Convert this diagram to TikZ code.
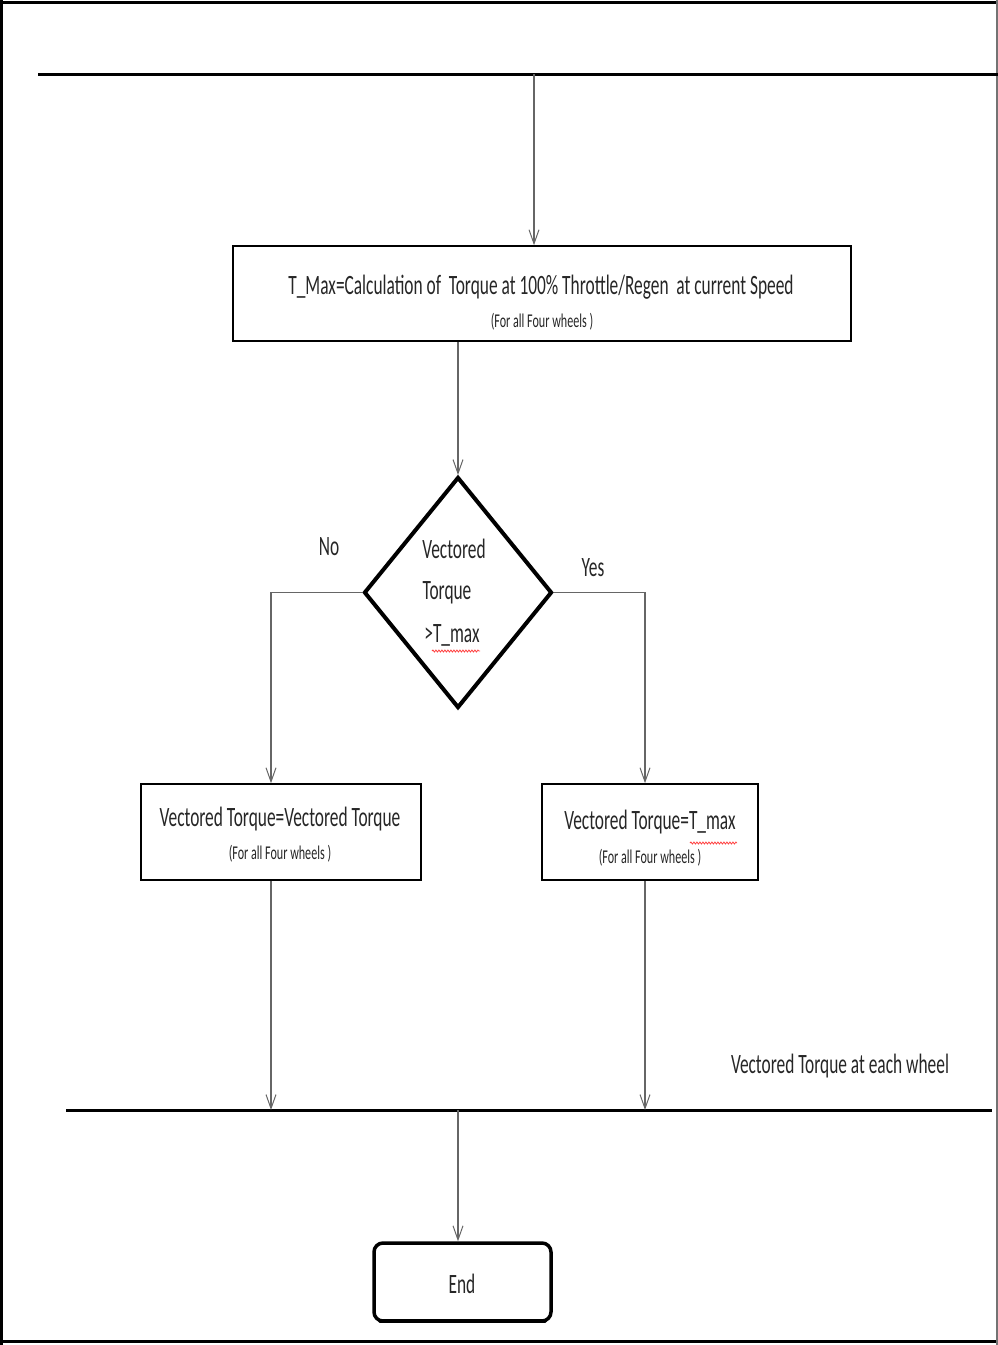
\documentclass[tikz,border=0pt]{standalone}
\usepackage{fontspec}
\setmainfont{Carlito}
\newfontfamily\nf[FakeStretch=0.62]{Carlito}
\usetikzlibrary{arrows.meta,decorations.pathmorphing,shapes.geometric}
\begin{document}
\begin{tikzpicture}[x=1pt,y=-1pt,
  conn/.style={draw=black!60, line width=1.2pt, -{Straight Barb[length=14pt,width=10pt,line width=1pt]}},
  link/.style={draw=black!60, line width=1.2pt},
  bar/.style={draw=black, line width=3pt},
  box/.style={draw=black, line width=1.6pt, rectangle, inner sep=0pt},
  big/.style={font=\fontsize{28}{34}\selectfont\nf, inner sep=0pt, text=black!85},
  small/.style={font=\fontsize{19.5}{22}\selectfont\nf, inner sep=0pt, text=black!85},
  squig/.style={draw=red!75, line width=0.8pt, decorate, decoration={snake, amplitude=1pt, segment length=3pt}}]
\useasboundingbox (0,0) rectangle (998,1345);
% frame
\draw[line width=3pt] (1.5,0) -- (1.5,1345);
\draw[line width=3pt] (0,2.5) -- (998,2.5);
\draw[line width=3.5pt] (0,1341.5) -- (998,1341.5);
\draw[draw=black!55, line width=1.5pt] (997,0) -- (997,1345);
% bars
\coordinate (tbL) at (38,74);
\coordinate (tbR) at (998,74);
\draw[bar] (tbL) -- (tbR);
\coordinate (bbL) at (66,1110);
\coordinate (bbR) at (992,1110);
\draw[bar] (bbL) -- (bbR);
% nodes
\node[box, minimum width=618pt, minimum height=95pt] (b1) at (542,293.5) {};
\node[big] (b1t) at (541,287) {T\_Max=Calculation of\ \ Torque at 100\% Throttle/Regen\ \ at current Speed};
\node[small] (b1s) at (542,322) {(For all Four wheels )};

\node[diamond, draw=black, line width=4pt, minimum width=188pt, minimum height=231pt, inner sep=0pt] (d) at (458,592.5) {};
\node[big] (dt1) at (454,549) {Vectored};
\node[big] (dt2) at (447,593) {Torque};
\node[big] (dt3) at (452,635) {>T\_max};
\draw[squig] (432,651) -- (480,651);

\node[box, minimum width=280pt, minimum height=96pt] (lb) at (281,832) {};
\node[big] (lbt) at (280,819) {Vectored Torque=Vectored Torque};
\node[small] (lbs) at (280,854) {(For all Four wheels )};

\node[box, minimum width=216pt, minimum height=96pt] (rb) at (650,832) {};
\node[big] (rbt) at (650,822) {Vectored Torque=T\_max};
\node[small] (rbs) at (650,858) {(For all Four wheels )};
\draw[squig] (690,843) -- (737,843);

\node[draw=black, line width=3.5pt, rounded corners=9pt, minimum width=177pt, minimum height=78pt, inner sep=0pt] (e) at (462.5,1282) {};
\draw[line width=4pt, line cap=round] ([xshift=8pt,yshift=2pt]e.south west) -- ([xshift=-8pt,yshift=2pt]e.south east);
\node[big] (et) at (462,1284) {End};

% labels
\node[big] (no) at (329,547) {No};
\node[big] (yes) at (593,568) {Yes};
\node[big] (vt) at (840,1066) {Vectored Torque at each wheel};

% connectors
\coordinate (a0) at (534,74);
\draw[conn] (a0) -- (a0 |- b1.north);
\draw[conn] (d.north |- b1.south) -- (d.north);
\draw[conn] (d.west) -| ([xshift=-10pt]lb.north);
\draw[conn] (d.east) -| ([xshift=-5pt]rb.north);
\coordinate (bl) at (271,1110);
\coordinate (br) at (645,1110);
\draw[conn] ([xshift=-10pt]lb.south) -- (bl);
\draw[conn] ([xshift=-5pt]rb.south) -- (br);
\coordinate (bm) at (458,1110);
\draw[conn] (bm) -- (bm |- e.north);
\end{tikzpicture}
\end{document}
